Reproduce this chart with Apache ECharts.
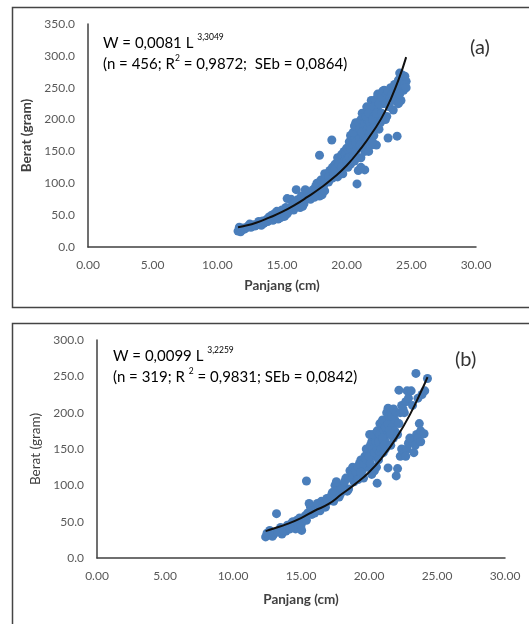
<!DOCTYPE html>
<html>
<head>
<meta charset="utf-8">
<script src="https://cdn.jsdelivr.net/npm/echarts@6/dist/echarts.min.js"></script>
<style>
  html, body { margin: 0; padding: 0; background: #fff; }
  #chart { width: 529px; height: 624px; }
</style>
</head>
<body>
<div id="chart"></div>
<script>
// panel (a) - Panjang (cm) vs Berat (gram)
const scatterA = [
  [11.6,25],[11.7,28],[11.8,24],[11.9,27],[12.0,30],[11.7,31],[12.1,28],[12.3,31],
  [12.2,30],[12.4,33],[12.6,31],[12.8,35],[12.9,33],[12.5,36],[13.0,34],[13.2,40],
  [13.1,36],[13.3,38],[13.5,41],[13.6,37],[13.8,43],[13.9,40],[13.4,34],[13.7,39],
  [14.1,45],[14.3,42],[14.5,48],[14.6,56],[14.8,50],[14.9,46],[14.4,52],[14.7,44],[14.0,47],[14.2,50],[14.8,54],
  [15.1,55],[15.3,62],[15.4,52],[15.6,60],[15.7,75],[15.9,58],[15.2,48],[15.8,66],[15.4,76],[15.0,58],[15.5,56],
  [16.1,65],[16.3,70],[16.4,62],[16.6,73],[16.8,90],[16.9,78],[16.2,74],[16.7,68],[16.5,80],[16.1,90],[16.0,70],[16.6,64],
  [17.1,82],[17.2,75],[17.4,90],[17.5,85],[17.7,100],[17.8,92],[17.9,80],[17.6,95],[17.3,87],[17.9,144],[18.1,82],[17.0,86],[17.5,78],
  [18.1,100],[18.2,95],[18.4,108],[18.5,115],[18.6,102],[18.7,120],[18.8,112],[18.9,125],[18.3,88],[18.85,168],
  [18.0,105],[18.3,115],[18.6,110],[18.9,108],
  [19.0,118],[19.1,130],[19.2,125],[19.3,140],[19.4,120],[19.5,135],[19.6,145],[19.7,128],[19.8,150],[19.9,138],[19.3,110],[19.7,115],
  [19.1,122],[19.4,130],[19.6,125],[19.9,145],
  [20.0,155],[20.1,140],[20.2,165],[20.3,130],[20.4,160],[20.1,125],[20.3,175],[20.4,145],[20.2,150],
  [20.0,135],[20.2,140],[20.3,155],[20.5,160],[20.5,140],
  [20.6,170],[20.7,150],[20.8,185],[20.9,160],[20.6,135],[20.8,99],[20.9,120],[20.7,195],[20.95,175],[20.5,180],
  [20.6,190],[20.7,165],[20.8,140],[20.9,195],[21.0,185],[21.0,170],
  [21.1,200],[21.2,165],[21.3,180],[21.4,150],[21.1,140],[21.4,121],[21.2,210],[21.3,190],[21.45,170],[21.05,160],
  [21.1,125],[21.2,180],[21.3,155],[21.4,195],
  [21.6,200],[21.7,175],[21.8,215],[21.9,160],[21.6,185],[21.8,195],[21.9,230],[21.7,150],[21.55,220],
  [21.5,205],[21.5,165],[21.6,170],[21.7,210],[21.8,180],[21.9,185],
  [22.1,205],[22.2,190],[22.3,225],[22.4,200],[22.2,231],[22.1,175],[22.4,215],[22.3,160],
  [22.0,200],[22.0,165],[22.1,220],[22.2,185],[22.3,210],[22.4,240],
  [22.6,240],[22.7,210],[22.8,225],[22.9,246],[22.6,195],[22.8,200],[22.95,230],[22.5,225],[22.5,185],[22.7,235],[22.8,245],
  [23.1,240],[23.2,171],[23.3,220],[23.4,250],[23.1,205],[23.35,235],[23.0,225],[23.0,200],[23.2,245],
  [23.6,245],[23.7,230],[23.9,174],[23.8,255],[23.9,240],[23.6,215],[23.5,240],[23.7,255],
  [24.1,273],[24.2,250],[24.3,262],[24.4,246],[24.5,268],[24.2,230],[24.4,255],[24.6,260],
  [24.0,262],[24.1,240],[24.3,270],[24.5,255],[24.6,250],[24.0,225]
];
const curveA = [
  [11.6,31],[12,32.5],[13,38],[14,46],[15,55],[16,66],[17,79],[18,93],
  [19,109],[20,128],[21,152],[22,180],[23,214],[24,262],[24.6,298]
];

// panel (b)
const scatterB = [
  [12.4,29],[12.6,32],[12.8,35],[12.9,30],[12.7,38],[12.5,34],[13.0,33],
  [13.2,61],[13.1,35],[13.4,38],[13.6,33],[13.8,40],[13.5,42],[13.9,37],[13.3,36],[13.7,38],
  [14.1,42],[14.3,48],[14.5,45],[14.7,52],[14.9,55],[14.6,40],[14.4,50],[14.0,45],[14.2,40],[14.8,47],
  [15.05,38],[15.1,50],[15.4,106],[15.3,58],[15.5,62],[15.7,70],[15.8,60],[15.6,75],[15.9,65],[15.0,45],[15.2,55],[15.4,52],
  [16.1,68],[16.3,72],[16.5,78],[16.7,75],[16.9,82],[16.4,65],[16.8,70],[16.0,62],[16.2,75],[16.6,70],
  [17.1,80],[17.3,90],[17.5,100],[17.7,88],[17.9,95],[17.4,78],[17.6,105],[17.8,84],[17.0,78],[17.2,85],[17.5,92],[17.9,88],
  [18.1,100],[18.3,110],[18.5,95],[18.7,115],[18.9,105],[18.4,92],[18.6,120],[18.8,125],[18.0,95],[18.2,105],[18.5,110],[18.8,115],
  [19.1,115],[19.3,130],[19.5,120],[19.7,140],[19.9,125],[19.2,108],[19.6,110],[19.8,150],[19.4,135],
  [19.0,120],[19.2,125],[19.4,118],[19.6,130],[19.8,135],[19.9,145],
  [20.0,150],[20.1,130],[20.2,160],[20.3,140],[20.4,120],[20.2,115],[20.4,165],[20.05,170],
  [20.0,140],[20.1,155],[20.3,150],[20.3,170],[20.4,145],
  [20.6,103],[20.6,150],[20.7,170],[20.8,145],[20.9,180],[20.7,135],[20.9,160],[20.55,125],
  [20.5,160],[20.6,175],[20.7,160],[20.8,170],[20.8,185],[20.9,150],
  [21.1,175],[21.2,160],[21.3,190],[21.4,206],[21.2,150],[21.4,124],[21.35,170],[21.05,145],
  [21.0,165],[21.0,190],[21.1,155],[21.2,180],[21.3,200],[21.4,185],
  [21.6,200],[21.7,180],[21.8,165],[21.9,190],[21.6,155],[22.0,113],
  [21.5,175],[21.5,195],[21.6,170],[21.7,195],[21.8,205],[21.9,175],[22.0,200],
  [22.1,123],[22.2,231],[22.3,140],[22.3,200],[22.4,210],[22.2,185],[22.1,170],[22.4,150],
  [22.6,145],[22.7,215],[22.8,150],[22.9,220],[22.6,200],[22.5,205],[22.8,230],[22.7,140],[22.9,158],
  [23.1,230],[23.2,160],[23.3,145],[23.45,254],[23.4,155],[23.2,210],[23.0,165],[23.5,170],
  [23.6,165],[23.7,185],[23.8,160],[23.9,225],[23.6,220],[23.8,175],
  [24.05,171],[24.3,247],[24.1,230]
];
const curveB = [
  [12.4,37],[13,40.5],[14,47],[15,55],[16,65],[17,74],[18,88],
  [19,102],[20,118],[21,139],[22,165],[23,197],[24,236],[24.3,249]
];

const FONT = 'Lato';
const dotColor = '#4a7ebb';

var myChart = echarts.init(document.getElementById('chart'));

function xAxisOf(gridIndex, gap) {
  return {
    gridIndex: gridIndex,
    type: 'value', min: 0, max: 30, interval: 5,
    name: 'Panjang (cm)', nameLocation: 'middle', nameGap: gap,
    nameTextStyle: { fontFamily: FONT, fontSize: 13.5, fontWeight: 'bold', color: '#404040' },
    axisLine: { show: true, onZero: false, lineStyle: { color: '#404040', width: 1.5 } },
    axisTick: { show: false },
    splitLine: { show: false },
    axisLabel: { fontFamily: FONT, fontSize: 12, color: '#595959', margin: 12,
      formatter: v => v.toFixed(2) }
  };
}

function yAxisOf(gridIndex, max, bold) {
  return {
    gridIndex: gridIndex,
    type: 'value', min: 0, max: max, interval: 50,
    name: 'Berat (gram)', nameLocation: 'middle', nameGap: 47,
    nameTextStyle: { fontFamily: FONT, fontSize: 13.5, fontWeight: bold ? 'bold' : 'normal', color: '#404040' },
    axisLine: { show: true, lineStyle: { color: '#404040', width: 1.5 } },
    axisTick: { show: false },
    splitLine: { show: false },
    axisLabel: { fontFamily: FONT, fontSize: 12, color: '#595959', margin: 13,
      formatter: v => v.toFixed(1) }
  };
}

const rich = {
  m: { fontFamily: FONT, fontSize: 15, color: '#333', lineHeight: 21 },
  s: { fontFamily: FONT, fontSize: 8.5, color: '#333', lineHeight: 13, verticalAlign: 'top' }
};

myChart.setOption({
  animation: false,
  backgroundColor: '#fff',
  grid: [
    { left: 88, top: 24, width: 388, height: 223 },
    { left: 97, top: 340, width: 408, height: 218 }
  ],
  xAxis: [xAxisOf(0, 32), xAxisOf(1, 35)],
  yAxis: [yAxisOf(0, 350, true), yAxisOf(1, 300, false)],
  graphic: [
    { type: 'rect', shape: { x: 12.5, y: 7.5, width: 540, height: 300 },
      style: { fill: 'none', stroke: '#444', lineWidth: 1.5 }, z: -1 },
    { type: 'rect', shape: { x: 12.5, y: 323.5, width: 540, height: 320 },
      style: { fill: 'none', stroke: '#444', lineWidth: 1.5 }, z: -1 },
    { type: 'text', left: 103, top: 33,
      style: { text: '{m|W = 0,0081 L }{s|3,3049}\n{m|(n = 456; R}{s|2}{m| = 0,9872;  SEb = 0,0864)}', rich: rich } },
    { type: 'text', left: 113, top: 346,
      style: { text: '{m|W = 0,0099 L }{s|3,2259}\n{m|(n = 319; R }{s|2}{m| = 0,9831; SEb = 0,0842)}', rich: rich } },
    { type: 'text', left: 470, top: 38,
      style: { text: '(a)', fontFamily: FONT, fontSize: 20, fill: '#333' } },
    { type: 'text', left: 455, top: 350,
      style: { text: '(b)', fontFamily: FONT, fontSize: 20, fill: '#333' } }
  ],
  series: [
    { type: 'scatter', xAxisIndex: 0, yAxisIndex: 0, data: scatterA,
      symbolSize: 9, itemStyle: { color: dotColor, opacity: 1 } },
    { type: 'line', xAxisIndex: 0, yAxisIndex: 0, data: curveA, smooth: true,
      showSymbol: false, lineStyle: { color: '#111', width: 2 }, z: 3 },
    { type: 'scatter', xAxisIndex: 1, yAxisIndex: 1, data: scatterB,
      symbolSize: 9, itemStyle: { color: dotColor, opacity: 1 } },
    { type: 'line', xAxisIndex: 1, yAxisIndex: 1, data: curveB, smooth: true,
      showSymbol: false, lineStyle: { color: '#111', width: 2 }, z: 3 }
  ]
});
</script>
</body>
</html>
